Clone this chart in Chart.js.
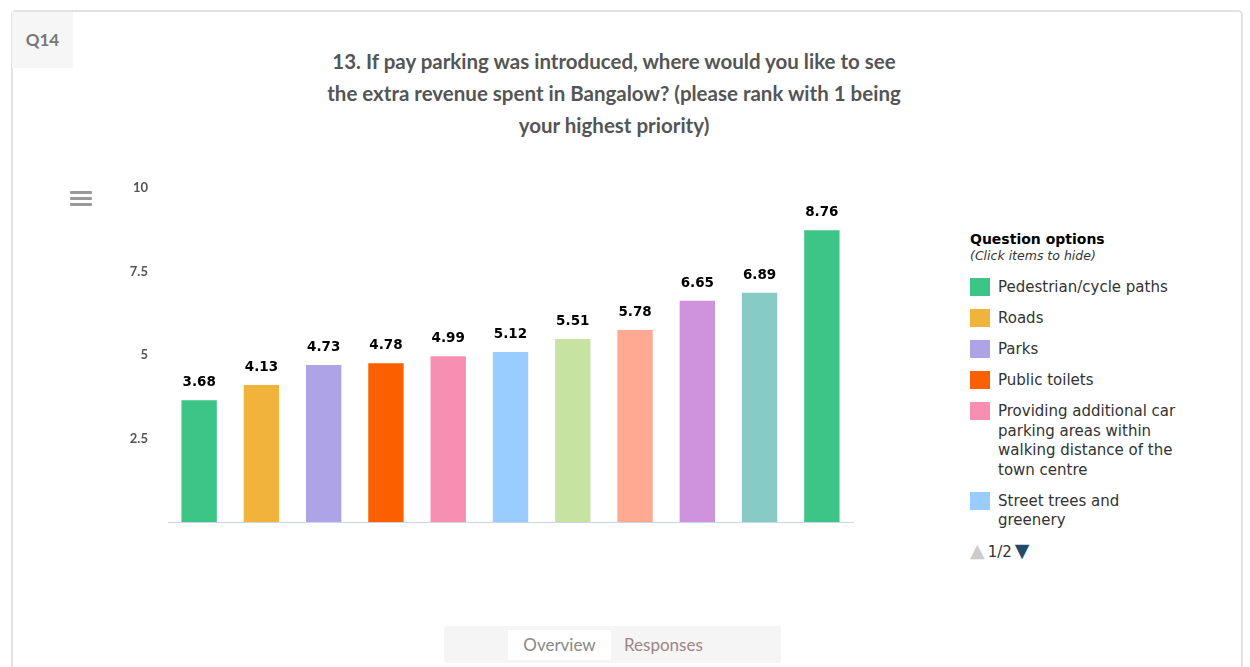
<!DOCTYPE html>
<html>
<head>
<meta charset="utf-8">
<script src="https://cdn.jsdelivr.net/npm/chart.js"></script>
<style>
  body { margin: 0; background: #fff; font-family: Lato, sans-serif; }
  .card {
    position: absolute; left: 11px; top: 10px; width: 1228px; height: 680px;
    border: 2px solid #e2e2e2; border-radius: 5px; background: #fff;
  }
  .qbox {
    position: absolute; left: 12px; top: 12px; width: 61px; height: 56px;
    background: #f6f6f6; color: #777; font: bold 17px Lato, sans-serif;
    line-height: 56px; text-align: center;
  }
  .title {
    position: absolute; left: 321px; top: 45px; width: 586px; text-align: center;
    color: #555; font: bold 20.5px Lato, sans-serif; line-height: 32px;
  }
  .menu { position: absolute; left: 70px; top: 191px; width: 22px; }
  .menu div { height: 3px; background: #999; margin-bottom: 3px; border-radius: 1px; }
  #wrap { position: absolute; left: 80px; top: 160px; width: 780px; height: 390px; }
  .legend {
    position: absolute; left: 970px; top: 230px; width: 218px;
    font-family: "DejaVu Sans", sans-serif; color: #333;
  }
  .legend h4 { margin: 0; font: bold 14px "DejaVu Sans", sans-serif; color: #000; line-height: 18px; }
  .legend .hint { font-style: italic; font-size: 12.5px; color: #333; margin-bottom: 14px; line-height: 16px; }
  .item { position: relative; padding-left: 28px; font-size: 15px; line-height: 19.6px; margin-bottom: 11.4px; }
  .item span { position: absolute; left: 0; top: 0; width: 20px; height: 18px; }
  .pager { font-size: 15px; color: #333; margin-top: -2px; line-height: 20px; }
  .pager .up { color: #ccc; font-size: 19px; margin-right: 3px; }
  .pager .down { color: #234a6b; font-size: 19px; margin-left: 3px; }
  .tabs {
    position: absolute; left: 444px; top: 626px; width: 337px; height: 37px;
    background: #f5f5f5; border-radius: 3px; font: 17px Lato, sans-serif;
  }
  .tab1 { position: absolute; left: 64px; top: 4px; width: 103px; height: 30px; background: #fff;
    color: #888; line-height: 30px; text-align: center; }
  .tab2 { position: absolute; left: 180px; top: 4px; line-height: 30px; color: #9e8586; }
</style>
</head>
<body>
<div class="card"></div>
<div class="qbox">Q14</div>
<div class="title">13. If pay parking was introduced, where would you like to see the extra revenue spent in Bangalow? (please rank with 1 being your highest priority)</div>
<div class="menu"><div></div><div></div><div></div></div>
<div id="wrap"><canvas id="chart"></canvas></div>
<div class="legend" id="legend">
  <h4>Question options</h4>
  <div class="hint">(Click items to hide)</div>
</div>
<div class="tabs"><div class="tab1">Overview</div><div class="tab2">Responses</div></div>
<script>
// 选项与得分
const options = [
  'Pedestrian/cycle paths',
  'Roads',
  'Parks',
  'Public toilets',
  'Providing additional car parking areas within walking distance of the town centre',
  'Street trees and greenery',
  'Option 7',
  'Option 8',
  'Option 9',
  'Option 10',
  'Option 11'
];
const scores = [3.68, 4.13, 4.73, 4.78, 4.99, 5.12, 5.51, 5.78, 6.65, 6.89, 8.76];
const colors = ['#3cc587', '#f0b43c', '#aea3e6', '#fa5f00', '#f78fb3', '#99ccff',
                '#c6e3a2', '#ffa993', '#cf93de', '#86cbc5', '#3cc587'];
const yTicks = [0, 2.5, 5, 7.5, 10];
const legendShown = 6;

// 图例 (第一页)
const legend = document.getElementById('legend');
options.slice(0, legendShown).forEach((name, i) => {
  const d = document.createElement('div');
  d.className = 'item';
  d.innerHTML = '<span style="background:' + colors[i] + '"></span>' + name;
  legend.appendChild(d);
});
const pager = document.createElement('div');
pager.className = 'pager';
pager.innerHTML = '<span class="up">&#9650;</span>1/2<span class="down">&#9660;</span>';
legend.appendChild(pager);

// 柱顶数值
const valueLabels = {
  id: 'valueLabels',
  afterDatasetsDraw(chart) {
    const ctx = chart.ctx;
    ctx.save();
    ctx.font = 'bold 13.5px "DejaVu Sans", sans-serif';
    ctx.textAlign = 'center';
    ctx.textBaseline = 'bottom';
    chart.getDatasetMeta(0).data.forEach((bar, i) => {
      const txt = scores[i].toFixed(2);
      ctx.lineWidth = 3;
      ctx.strokeStyle = '#fff';
      ctx.strokeText(txt, bar.x, bar.y - 10);
      ctx.fillStyle = '#000';
      ctx.fillText(txt, bar.x, bar.y - 10);
    });
    ctx.restore();
  }
};

new Chart(document.getElementById('chart'), {
  type: 'bar',
  data: {
    labels: options,
    datasets: [{
      data: scores,
      backgroundColor: colors,
      borderColor: '#ffffff',
      borderWidth: 1,
      categoryPercentage: 1,
      barPercentage: 0.6
    }]
  },
  options: {
    responsive: true,
    maintainAspectRatio: false,
    animation: false,
    layout: { padding: { top: 10, right: 7, bottom: 0, left: 0 } },
    plugins: { legend: { display: false }, tooltip: { enabled: false } },
    scales: {
      x: {
        grid: { display: false, drawTicks: false },
        border: { display: true, color: '#ccd6eb', width: 1 },
        ticks: { display: false }
      },
      y: {
        min: 0, max: 10,
        afterBuildTicks: axis => { axis.ticks = yTicks.map(v => ({ value: v })); },
        afterFit: axis => { axis.width = 88; },
        grid: { display: false, drawTicks: false },
        border: { display: false },
        ticks: {
          padding: 20,
          color: '#555',
          font: { family: 'Lato', size: 13, weight: 'bold' },
          callback: v => v === 0 ? '' : v
        }
      }
    }
  },
  plugins: [valueLabels]
});
</script>
</body>
</html>
